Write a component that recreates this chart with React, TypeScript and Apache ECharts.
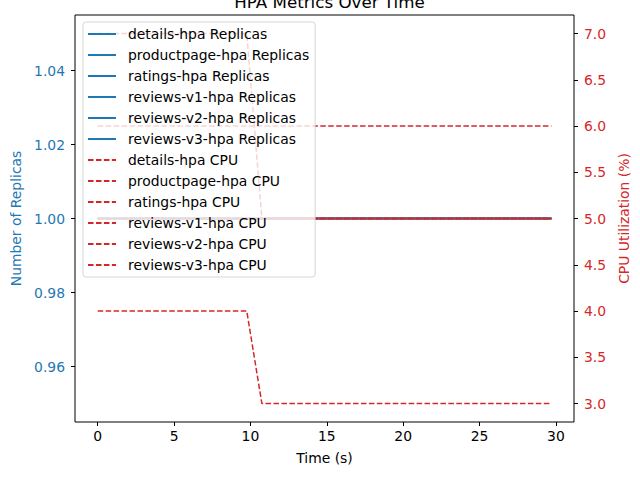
import React, { useEffect, useRef } from "react";
import * as echarts from "echarts";

const times = [0, 9.76, 10.75, 29.7];
const replicaNames = [
  "details-hpa Replicas",
  "productpage-hpa Replicas",
  "ratings-hpa Replicas",
  "reviews-v1-hpa Replicas",
  "reviews-v2-hpa Replicas",
  "reviews-v3-hpa Replicas",
];
const replicaValues = [
  [1, 1, 1, 1],
  [1, 1, 1, 1],
  [1, 1, 1, 1],
  [1, 1, 1, 1],
  [1, 1, 1, 1],
  [1, 1, 1, 1],
];
const cpuNames = [
  "details-hpa CPU",
  "productpage-hpa CPU",
  "ratings-hpa CPU",
  "reviews-v1-hpa CPU",
  "reviews-v2-hpa CPU",
  "reviews-v3-hpa CPU",
];
const cpuValues = [
  [5, 5, 5, 5],
  [7, 7, 5, 5],
  [6, 6, 6, 6],
  [5, 5, 5, 5],
  [5, 5, 5, 5],
  [4, 4, 3, 3],
];
const xTicks = [0, 5, 10, 15, 20, 25, 30];
const leftTicks = [0.96, 0.98, 1.0, 1.02, 1.04];
const rightTicks = [3.0, 3.5, 4.0, 4.5, 5.0, 5.5, 6.0, 6.5, 7.0];

const BLUE = "#1f77b4";
const RED = "#d62728";
const FONT = "DejaVu Sans";
const FS = 13.9;

export default function App() {
  const ref = useRef<HTMLDivElement>(null);
  useEffect(() => {
    if (!ref.current) return;
    const chart = echarts.init(ref.current, undefined, { renderer: "svg" });
    const series: any[] = [];
    replicaNames.forEach((n, i) => {
      series.push({
        name: n,
        type: "line",
        yAxisIndex: 0,
        symbol: "none",
        data: times.map((t, j) => [t, replicaValues[i][j]]),
        lineStyle: { color: BLUE, width: 1.5 },
        itemStyle: { color: BLUE },
      });
    });
    cpuNames.forEach((n, i) => {
      series.push({
        name: n,
        type: "line",
        yAxisIndex: 1,
        symbol: "none",
        data: times.map((t, j) => [t, cpuValues[i][j]]),
        lineStyle: { color: RED, width: 1.5, type: [5.55, 2.4] },
        itemStyle: { color: RED },
      });
    });
    chart.setOption({
      animation: false,
      backgroundColor: "#fff",
      textStyle: { fontFamily: FONT },
      title: {
        text: "HPA Metrics Over Time",
        left: 324.5,
        textAlign: "center",
        top: -12,
        textStyle: { fontFamily: FONT, fontSize: 16.7, fontWeight: "normal", color: "#000" },
      },
      grid: {
        left: 75,
        right: 66,
        top: 15,
        bottom: 58,
        show: true,
        borderColor: "#000",
        borderWidth: 1,
        backgroundColor: "transparent",
      },
      legend: {
        orient: "vertical",
        left: 83,
        top: 22,
        padding: [5, 6, 5, 4],
        itemWidth: 28,
        itemHeight: 14,
        itemGap: 7,
        backgroundColor: "rgba(255,255,255,0.8)",
        borderColor: "rgba(204,204,204,0.8)",
        borderWidth: 1,
        borderRadius: 3,
        itemStyle: { opacity: 0, borderWidth: 0 },
        textStyle: { fontFamily: FONT, fontSize: FS, color: "#000", padding: [0, 0, 0, 7] },
        data: [...replicaNames, ...cpuNames],
      },
      xAxis: {
        type: "value",
        min: -1.485,
        max: 31.185,
        name: "Time (s)",
        nameLocation: "middle",
        nameGap: 29,
        nameTextStyle: { fontFamily: FONT, fontSize: FS, color: "#000" },
        axisLine: { show: false, onZero: false },
        splitLine: { show: false },
        axisTick: { show: true, length: 4, inside: false, lineStyle: { color: "#000" }, customValues: xTicks },
        axisLabel: {
          color: "#000",
          fontFamily: FONT,
          fontSize: FS,
          margin: 7,
          customValues: xTicks,
          formatter: (v: number) => String(v),
        },
      },
      yAxis: [
        {
          type: "value",
          position: "left",
          min: 0.945,
          max: 1.055,
          name: "Number of Replicas",
          nameLocation: "middle",
          nameGap: 51,
          nameTextStyle: { fontFamily: FONT, fontSize: FS, color: BLUE },
          axisLine: { show: false, onZero: false },
          splitLine: { show: false },
          axisTick: { show: true, length: 4, lineStyle: { color: "#000" }, customValues: leftTicks },
          axisLabel: {
            color: BLUE,
            fontFamily: FONT,
            fontSize: FS,
            margin: 10,
            customValues: leftTicks,
            formatter: (v: number) => v.toFixed(2),
          },
        },
        {
          type: "value",
          position: "right",
          min: 2.8,
          max: 7.2,
          name: "CPU Utilization (%)",
          nameLocation: "middle",
          nameGap: 37,
          nameRotate: 90,
          nameTextStyle: { fontFamily: FONT, fontSize: FS, color: RED },
          axisLine: { show: false, onZero: false },
          splitLine: { show: false },
          axisTick: { show: true, length: 4, lineStyle: { color: "#000" }, customValues: rightTicks },
          axisLabel: {
            color: RED,
            fontFamily: FONT,
            fontSize: FS,
            margin: 10,
            customValues: rightTicks,
            formatter: (v: number) => v.toFixed(1),
          },
        },
      ],
      series,
    });
    return () => chart.dispose();
  }, []);
  return (
    <div
      ref={ref}
      style={{ position: "fixed", left: 0, top: 0, width: 640, height: 480 }}
    />
  );
}
